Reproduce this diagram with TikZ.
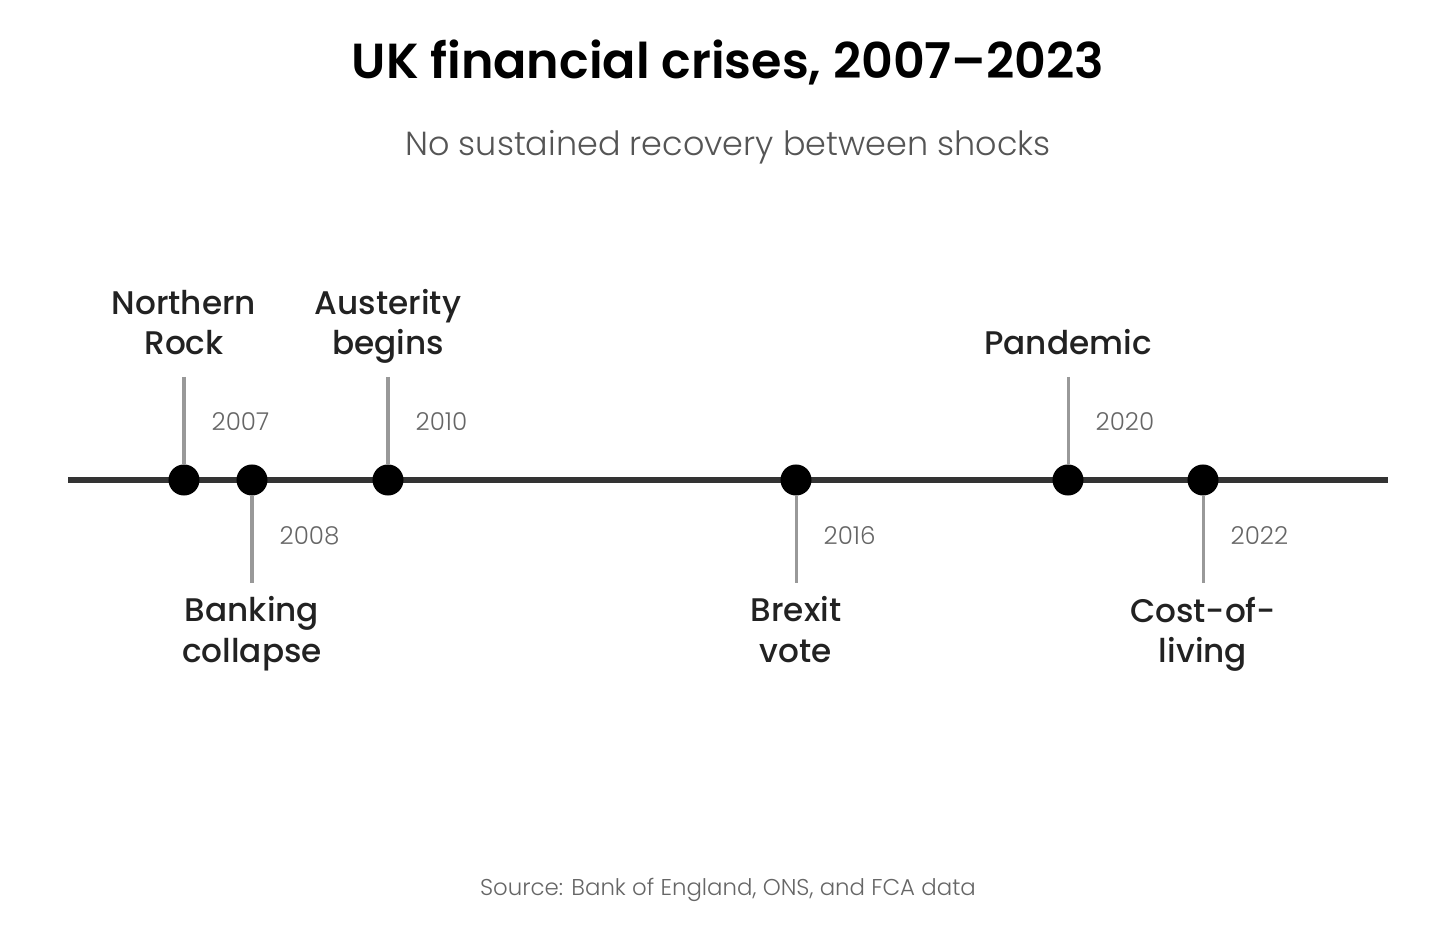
\documentclass[tikz,border=0pt]{standalone}
\usepackage{fontspec}
\setmainfont{Poppins}
\newfontfamily\titlefont{Poppins SemiBold}
\newfontfamily\labelfont{Poppins Medium}
\newfontfamily\lightfont{Poppins Light}
\usetikzlibrary{positioning}
\definecolor{axisgray}{HTML}{333333}
\definecolor{stemgray}{HTML}{999999}
\definecolor{labelgray}{HTML}{222222}
\definecolor{textgray}{HTML}{666666}
\definecolor{subgray}{HTML}{555555}
\tikzset{axis/.style={draw=axisgray,line width=0.06cm}}
\tikzset{event/.style={circle,fill=black,inner sep=0pt,minimum size=0.31cm}}
\tikzset{stem/.style={draw=stemgray,line width=0.03cm}}
\tikzset{crisis/.style={inner sep=0pt,align=center,text=labelgray,font=\labelfont\fontsize{9.3}{11.4}\selectfont,execute at begin node=\strut,execute at end node=\strut}}
\tikzset{year/.style={inner sep=0pt,anchor=west,text=textgray,font=\lightfont\fontsize{7}{8}\selectfont}}

\begin{document}
\begin{tikzpicture}[x=0.01cm,y=-0.01cm]
\useasboundingbox(0,0) rectangle (1456,946);
\node[font=\titlefont\fontsize{14}{16}\selectfont](title) at (728,63){UK financial crises, 2007–2023};
\node[text=subgray,font=\lightfont\fontsize{9.5}{12}\selectfont](subtitle) at (728,147){No sustained recovery between shocks};
\coordinate(start) at (68,480);
\coordinate(end) at (1388,480);
\draw[axis](start) -- (end);
% events above the line
\node[event](e2007) at (184,480){};
\coordinate[above=1.03cm of e2007.center](t2007);
\draw[stem](t2007) -- (e2007);
\node[crisis](l2007)[above=0.1cm of t2007]{Northern\\Rock};
\node[year](y2007) at ([xshift=0.27cm,yshift=0.58cm]e2007.center){2007};
\node[event](e2010) at (388,480){};
\coordinate[above=1.03cm of e2010.center](t2010);
\draw[stem](t2010) -- (e2010);
\node[crisis](l2010)[above=0.1cm of t2010]{Austerity\\begins};
\node[year](y2010) at ([xshift=0.27cm,yshift=0.58cm]e2010.center){2010};
\node[event](e2020) at (1068,480){};
\coordinate[above=1.03cm of e2020.center](t2020);
\draw[stem](t2020) -- (e2020);
\node[crisis](l2020)[above=0.1cm of t2020]{Pandemic};
\node[year](y2020) at ([xshift=0.27cm,yshift=0.58cm]e2020.center){2020};
% events below the line
\node[event](e2008) at (252,480){};
\coordinate[below=1.03cm of e2008.center](b2008);
\draw[stem](e2008) -- (b2008);
\node[crisis](l2008)[below=0.13cm of b2008]{Banking\\collapse};
\node[year](y2008) at ([xshift=0.27cm,yshift=-0.56cm]e2008.center){2008};
\node[event](e2016) at (796,480){};
\coordinate[below=1.03cm of e2016.center](b2016);
\draw[stem](e2016) -- (b2016);
\node[crisis](l2016)[below=0.13cm of b2016]{Brexit\\vote};
\node[year](y2016) at ([xshift=0.27cm,yshift=-0.56cm]e2016.center){2016};
\node[event](e2022) at (1203,480){};
\coordinate[below=1.03cm of e2022.center](b2022);
\draw[stem](e2022) -- (b2022);
\node[crisis](l2022)[below=0.13cm of b2022]{Cost-of-\\living};
\node[year](y2022) at ([xshift=0.27cm,yshift=-0.56cm]e2022.center){2022};
\node[text=textgray,font=\lightfont\fontsize{6.5}{8}\selectfont](source) at (728,890){Source: Bank of England, ONS, and FCA data};
\end{tikzpicture}
\end{document}
